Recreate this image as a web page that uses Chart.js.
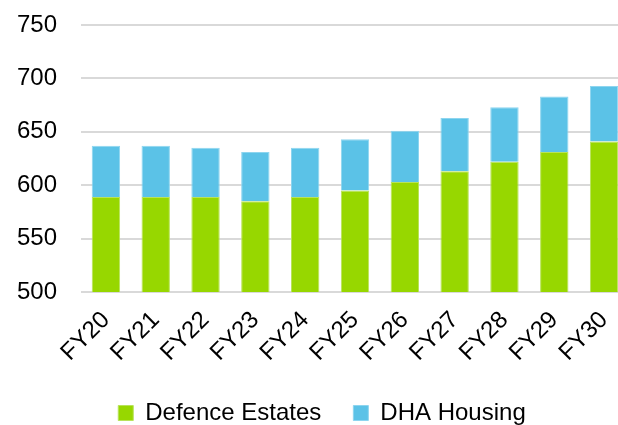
<!DOCTYPE html>
<html>
<head>
<meta charset="utf-8">
<script src="https://cdn.jsdelivr.net/npm/chart.js@4"></script>
<style>
html,body{margin:0;padding:0;background:#fff;overflow:hidden;}
#wrap{width:618px;height:425px;overflow:hidden;position:relative;}
</style>
</head>
<body>
<div id="wrap"><canvas id="c" width="630" height="425"></canvas></div>
<script>
const categories = ["FY20","FY21","FY22","FY23","FY24","FY25","FY26","FY27","FY28","FY29","FY30"];
const defenceEstates = [589,589,589,585,589,595,603,613,622,631,641];
const dhaHousing = [48,48,46,46,46,48,48,50,51,52,52];
const yTicks = [500,550,600,650,700,750];

const font = {family: "'Liberation Sans', Arial, sans-serif", size: 24};
new Chart(document.getElementById('c'), {
  type: 'bar',
  data: {
    labels: categories,
    datasets: [
      {label: 'Defence Estates', data: defenceEstates, backgroundColor: '#97D700', borderColor: '#B8E35A', borderWidth: 1, barPercentage: 0.57, categoryPercentage: 1},
      {label: 'DHA Housing', data: dhaHousing, backgroundColor: '#5BC2E7', borderColor: '#8DD5EF', borderWidth: 1, barPercentage: 0.57, categoryPercentage: 1}
    ]
  },
  options: {
    responsive: false,
    animation: false,
    layout: {autoPadding: false, padding: {left: 15, top: 25, right: 1, bottom: -10}},
    scales: {
      x: {
        stacked: true,
        grid: {display: false, drawTicks: false},
        border: {display: false},
        ticks: {color: '#000', font: font, maxRotation: 45, minRotation: 45, padding: 14},
        afterFit: (s) => { s.height = 77; s.paddingLeft = 0; s.paddingRight = 0; }
      },
      y: {
        stacked: true,
        min: 500, max: 750,
        afterBuildTicks: (s) => { s.ticks = yTicks.map(v => ({value: v})); },
        grid: {color: '#D9D9D9', lineWidth: 2, drawTicks: false},
        border: {display: false},
        ticks: {color: '#000', font: font, padding: 24},
        afterFit: (s) => { s.width = 66; s.paddingTop = 0; s.paddingBottom = 0; }
      }
    },
    plugins: {
      legend: {
        position: 'bottom',
        labels: {color: '#000', font: font, boxWidth: 15, boxHeight: 15, padding: 32, useBorderRadius: false}
      },
      tooltip: {enabled: false}
    }
  }
});
</script>
</body>
</html>
